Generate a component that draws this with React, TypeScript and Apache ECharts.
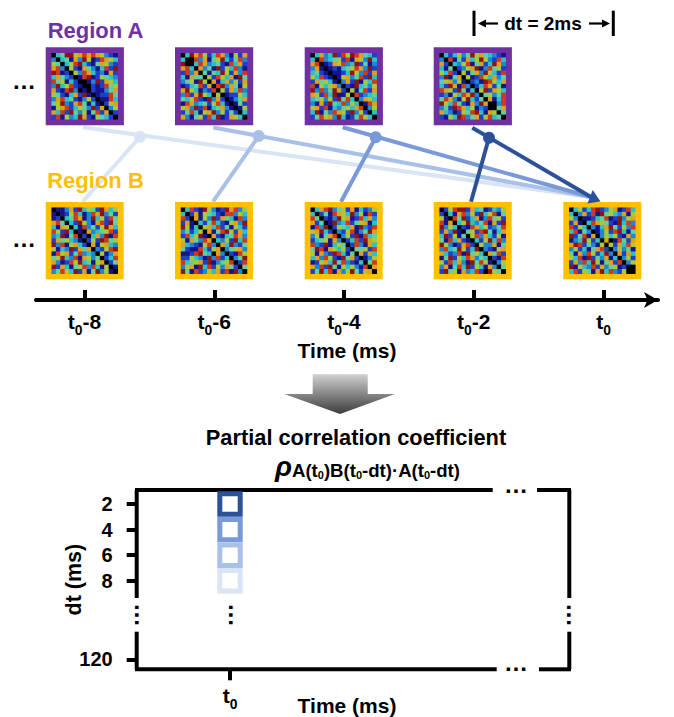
import React, { useEffect, useRef } from "react";
import * as echarts from "echarts";

// Cell levels: 0 black, 1 navy, 2 blue, 3 azure, 4 teal, 5 green, 6 lime, 7 orange, 8 red, 9 dark red
const regionA1 = ["045996787876321","304517396128764","650468942157632","783062175314829","981206387423172","475320189126543","856142001392764","394682100212856","721893010211357","652147291012285","378452136201184","569327851410267","167824653927036","748295361582702","281634972165420"];
const regionA2 = ["049786248731627","400837156942583","900487345218472","784073519264831","283705154962738","417550628647195","356196071473627","124582708937516","796413280627483","382796406012264","546821937201357","187345268410152","673928145731016","258416793625204","731562849127640"];
const regionA3 = ["047349286987542","408345628176394","780127683492513","371012145687392","452101124963827","648210167358294","275641037291648","816467302194536","938359720615827","762849116082345","456362958403764","317295483640187","672814356478036","491538762936204","258673941258640"];
const regionA4 = ["042463596754321","308152746963284","720436815724973","415023679138562","648206157396428","391570612864735","567361023198647","429718302487251","876295140692764","231648793056358","587316942507148","964852173970038","352987461320057","743126589417605","216498357268450"];
const regionB1 = ["011372946529746","101268413879352","120458713946285","785042963178295","417604183526974","862940107345682","349158020473918","275643102629856","938167420716743","614392757032689","186725834306137","569438176350248","731286945167025","927415683841601","358649271593610"];
const regionB2 = ["048219631297836","402716542188364","820716392754183","271042584216739","961406748251642","352460715896274","284691072145873","617538704362948","743216830749325","521184267035673","112895407302186","226431938240359","845672913568028","367194826375205","951823647281930"];
const regionB3 = ["047893562714236","402518764936182","850213967128473","725019348256714","183902654719328","679420326813597","361578036291845","245617302482976","832914650283174","598176462055628","617329841507274","473862195720136","126749583214058","738295164631807","259481736952670"];
const regionB4 = ["026899274512436","204178362946815","610859247138562","817046943581729","936402187462358","273910562895147","492615068374261","518472104269483","963127820633715","384596249032167","742381956407582","159264873540218","628473195861036","371584926417305","295617348209650"];
const regionB5 = ["046248923671284","403728195643716","630112458129367","271048765219483","826403147952638","481530136289415","925817036462173","134962407018527","798253160627486","362415782036351","517386249307274","648192537140362","273849615728036","916438273561200","482651794832600"];
const regionAMatrices = [regionA1, regionA2, regionA3, regionA4];
const regionBMatrices = [regionB1, regionB2, regionB3, regionB4, regionB5];

const jetLevels = ["#000000","#14148c","#1f3fc8","#1f86d2","#2cc0c8","#62cfa0","#a9c83c","#dfa01e","#cf3a1c","#8e1414"];

const timeTicks = [-8, -6, -4, -2, 0];
const timeLabels = ["t0-8", "t0-6", "t0-4", "t0-2", "t0"];
const dtValues = ["2", "4", "6", "8"];
const dtRows = [0, 1, 2, 3];
const dtExtraLabel = "120";
const dtExtraRow = 6.07;
const lagColors = ["#2b5299", "#7a99d8", "#a9c0e8", "#d9e4f5"];

const FONT = "Liberation Sans";
const CELLS = 15;
const aLeft = [45.7, 175, 304.7, 433.7];
const bLeft = [45.7, 175, 304.7, 433.7, 563.3];

const panelGrid = (left: number, top: number) => ({ left: left + 6, top, width: 66, height: 66, outerBoundsMode: "none" });

function App() {
  const ref = useRef<HTMLDivElement>(null);
  useEffect(() => {
    document.body.style.margin = "0";
    const chart = echarts.init(ref.current!, null, { renderer: "svg" });

    const grids: any[] = [];
    const xAxes: any[] = [];
    const yAxes: any[] = [];
    const series: any[] = [];
    const idx = Array.from({ length: CELLS }, (_, i) => String(i));
    const addPanel = (matrix: string[], left: number, top: number) => {
      const i = grids.length;
      grids.push(panelGrid(left, top));
      xAxes.push({ type: "category", gridIndex: i, data: idx, show: false });
      yAxes.push({ type: "category", gridIndex: i, data: idx, show: false, inverse: true });
      const data: number[][] = [];
      matrix.forEach((row, r) => row.split("").forEach((c, k) => { if (k < CELLS) data.push([k, r, Number(c)]); }));
      series.push({ type: "heatmap", xAxisIndex: i, yAxisIndex: i, data, itemStyle: { borderWidth: 0 } });
    };
    regionAMatrices.forEach((m, i) => addPanel(m, aLeft[i], 53.3));
    regionBMatrices.forEach((m, i) => addPanel(m, bLeft[i], 207.7));
    const panelCount = grids.length;

    const rich = (size: number) => ({
      a: { fontFamily: FONT, fontWeight: "bold", fontSize: size, color: "#000", lineHeight: size + 10 },
      s: { fontFamily: FONT, fontWeight: "bold", fontSize: size * 0.66, color: "#000", lineHeight: size + 10, verticalAlign: "bottom" },
    });
    const subscripted = (label: string) => {
      const rest = label.slice(2);
      return "{a|t}{s|0}" + (rest ? "{a|" + rest + "}" : "");
    };

    // timeline
    const pxPerMs = 64.875;
    grids.push({ left: 36, top: 290, width: 622, height: 10, outerBoundsMode: "none" });
    xAxes.push({
      type: "value", gridIndex: panelCount, position: "bottom",
      min: -8 - (84.5 - 36) / pxPerMs, max: (658 - 603.5) / pxPerMs,
      splitLine: { show: false },
      axisLine: { show: true, onZero: false, symbol: ["none", "arrow"], symbolSize: [12, 14], lineStyle: { color: "#000", width: 4 } },
      axisTick: { show: true, inside: true, length: 10, customValues: timeTicks, lineStyle: { color: "#000", width: 4 } },
      axisLabel: {
        customValues: timeTicks, margin: 6, rich: rich(21),
        formatter: (v: number) => subscripted(timeLabels[timeTicks.indexOf(Math.round(v))]),
      },
      name: "Time (ms)", nameLocation: "middle", nameGap: 40, nameMoveOverlap: false,
      nameTextStyle: { fontFamily: FONT, fontWeight: "bold", fontSize: 21, color: "#000" },
    });
    yAxes.push({ type: "value", gridIndex: panelCount, show: false });

    // dt map
    const mapIndex = panelCount + 1;
    const colPx = 25;
    const rowPx = 25.6;
    grids.push({ left: 136.7, top: 490, width: 432.6, height: 179.3, outerBoundsMode: "none" });
    xAxes.push({
      type: "value", gridIndex: mapIndex, position: "bottom",
      min: (136.7 - 230) / colPx, max: (569.3 - 230) / colPx,
      splitLine: { show: false }, axisLine: { show: false, onZero: false },
      axisTick: { show: true, length: 11, customValues: [0], lineStyle: { color: "#000", width: 4 } },
      axisLabel: { customValues: [0], margin: 11, rich: rich(21), formatter: () => subscripted(timeLabels[4]) },
      name: "Time (ms)", nameLocation: "middle", nameGap: 26, nameMoveOverlap: false,
      nameTextStyle: { fontFamily: FONT, fontWeight: "bold", fontSize: 21, color: "#000", padding: [0, 12, 0, 0] },
    });
    const yTicks = [...dtRows, dtExtraRow];
    const yLabels = [...dtValues, dtExtraLabel];
    yAxes.push({
      type: "value", gridIndex: mapIndex, inverse: true, position: "left",
      min: (490 - 504) / rowPx, max: (669.3 - 504) / rowPx,
      splitLine: { show: false }, axisLine: { show: false, onZero: false },
      axisTick: { show: true, length: 10, customValues: yTicks, lineStyle: { color: "#000", width: 4 } },
      axisLabel: {
        customValues: yTicks, margin: 24, fontFamily: FONT, fontWeight: "bold", fontSize: 20, color: "#000",
        formatter: (v: number) => yLabels[yTicks.findIndex((t) => Math.abs(t - v) < 1e-6)],
      },
      name: "dt (ms)", nameLocation: "middle", nameGap: 52, nameMoveOverlap: false,
      nameTextStyle: { fontFamily: FONT, fontWeight: "bold", fontSize: 21.5, color: "#000" },
    });
    series.push({
      type: "scatter", xAxisIndex: mapIndex, yAxisIndex: mapIndex, symbol: "rect", symbolSize: 20.4,
      data: dtRows.map((r, i) => ({
        value: [0, r],
        itemStyle: { color: "#ffffff", borderColor: lagColors[i], borderWidth: 5, opacity: 1 },
      })).reverse(),
    });

    // diagram annotations
    const g: any[] = [];
    const line = (x1: number, y1: number, x2: number, y2: number, stroke: string, lineWidth: number) =>
      g.push({ type: "line", silent: true, shape: { x1, y1, x2, y2 }, style: { stroke, lineWidth } });
    const text = (x: number, y: number, t: string, size: number, fill: string, extra: any = {}) =>
      g.push({
        type: "text", silent: true, x, y, ...extra,
        style: { text: t, x: 0, y: 0, fontFamily: FONT, fontWeight: "bold", fontSize: size, fill, textAlign: "center", textVerticalAlign: "middle", ...(extra.style || {}) },
      });

    const links = [
      { a: [472.3, 127.7], dot: [489, 137.7], b: [471, 201.7], w: 4 },
      { a: [342.7, 127.3], dot: [375.7, 137.3], b: [341, 201.7], w: 4 },
      { a: [213.3, 127.5], dot: [258.7, 136], b: [213, 201.7], w: 4 },
      { a: [83, 127.3], dot: [140, 136.7], b: [82.7, 201.7], w: 4 },
    ];
    const fanEnd = [591, 197];
    [3, 2, 1, 0].forEach((i) => {
      const l = links[i];
      line(l.a[0], l.a[1], fanEnd[0], fanEnd[1], lagColors[i], l.w);
      line(l.b[0], l.b[1], l.dot[0], l.dot[1], lagColors[i], l.w);
      g.push({ type: "circle", silent: true, shape: { cx: l.dot[0], cy: l.dot[1], r: 6 }, style: { fill: lagColors[i] } });
    });

    aLeft.forEach((x) => g.push({ type: "rect", silent: true, shape: { x, y: 47.3, width: 78.2, height: 78 }, style: { fill: "#7030a0" } }));
    bLeft.forEach((x) => g.push({ type: "rect", silent: true, shape: { x, y: 202, width: 78, height: 77.3 }, style: { fill: "#ffc000" } }));

    // arrow head on the last panel
    g.push({ type: "polygon", silent: true, shape: { points: [[592.7, 190], [600.5, 201.5], [587.5, 203.5]] }, style: { fill: lagColors[0] } });

    text(95.5, 30, "Region A", 22, "#7030a0");
    text(95.5, 180, "Region B", 22, "#ffc000");

    // ellipses
    text(24, 80, "…", 24, "#000");
    text(24, 238, "…", 24, "#000");
    text(516, 484, "…", 24, "#000");
    text(516, 662, "…", 24, "#000");
    [136.7, 230, 568.5].forEach((x) => text(x + 7, 615, "…", 24, "#000", { rotation: -Math.PI / 2 }));

    // dt bracket
    line(474, 10.7, 474, 36, "#000", 3);
    line(613.3, 10.7, 613.3, 36, "#000", 3);
    text(543, 23.5, "dt = 2ms", 19, "#000");
    line(482, 23.5, 498, 23.5, "#000", 2.2);
    line(589, 23.5, 605, 23.5, "#000", 2.2);
    g.push({ type: "polygon", silent: true, shape: { points: [[478, 23.5], [486, 19.5], [486, 27.5]] }, style: { fill: "#000" } });
    g.push({ type: "polygon", silent: true, shape: { points: [[610, 23.5], [602, 19.5], [602, 27.5]] }, style: { fill: "#000" } });

    // block arrow
    g.push({
      type: "polygon", silent: true,
      shape: { points: [[312.7, 374.3], [367.7, 374.3], [367.7, 394], [395, 394], [340, 414], [284.3, 394], [312.7, 394]] },
      style: { fill: { type: "linear", x: 0, y: 0, x2: 0, y2: 1, colorStops: [{ offset: 0, color: "#d0d0d0" }, { offset: 1, color: "#3c3c3c" }] } },
    });

    text(356, 437, "Partial correlation coefficient", 21.8, "#000");
    g.push({
      type: "text", silent: true, x: 275, y: 467,
      style: {
        x: 0, y: 0, textVerticalAlign: "middle", textAlign: "left",
        text: "{r|ρ}{a|A(t}{s|0}{a|)B(t}{s|0}{a|-dt)·A(t}{s|0}{a|-dt)}",
        rich: {
          r: { fontFamily: FONT, fontWeight: "bold", fontStyle: "italic", fontSize: 28, fill: "#000", lineHeight: 26, verticalAlign: "bottom" },
          a: { fontFamily: FONT, fontWeight: "bold", fontSize: 18.6, fill: "#000", lineHeight: 26, verticalAlign: "bottom" },
          s: { fontFamily: FONT, fontWeight: "bold", fontSize: 11, fill: "#000", lineHeight: 23, verticalAlign: "bottom" },
        },
      },
    });

    // broken frame of the map
    const frame = (x1: number, y1: number, x2: number, y2: number) => line(x1, y1, x2, y2, "#000", 4);
    frame(135, 490, 492.7, 490);
    frame(537, 490, 571, 490);
    frame(135, 669.3, 496.7, 669.3);
    frame(539, 669.3, 571, 669.3);
    frame(136.7, 490, 136.7, 598);
    frame(136.7, 631.7, 136.7, 669.3);
    frame(569.3, 490, 569.3, 598);
    frame(569.3, 631.7, 569.3, 669.3);

    chart.setOption({
      animation: false,
      backgroundColor: "#ffffff",
      grid: grids,
      xAxis: xAxes,
      yAxis: yAxes,
      visualMap: {
        type: "piecewise", show: false, dimension: 2,
        seriesIndex: Array.from({ length: panelCount }, (_, i) => i),
        pieces: jetLevels.map((color, value) => ({ value, color })),
      },
      graphic: g,
      series,
    });
    return () => chart.dispose();
  }, []);
  return <div ref={ref} style={{ width: 674, height: 717 }} />;
}

export default App;
